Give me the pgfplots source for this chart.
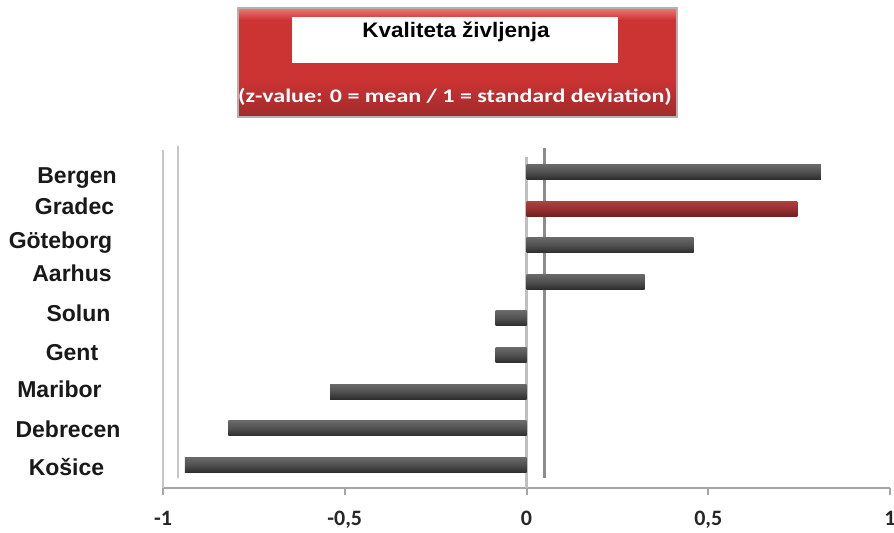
\documentclass[border=0pt]{standalone}
\usepackage{pgfplots}
\pgfplotsset{compat=1.18}
\usepackage{fontspec}
\setmainfont{Liberation Sans}
\newfontfamily\calibri{Carlito}
\definecolor{boxred}{RGB}{204,51,51}
\definecolor{boxlight}{RGB}{240,120,120}
\definecolor{boxdark}{RGB}{160,42,42}
\definecolor{bargray}{RGB}{80,80,80}
\definecolor{bardark}{RGB}{45,45,45}
\definecolor{barlight}{RGB}{105,105,105}
\definecolor{redbar}{RGB}{152,48,48}
\definecolor{redbardark}{RGB}{115,32,32}
\definecolor{redbarlight}{RGB}{175,65,65}
\pgfplotsset{
  graybar/.style={draw=none, top color=barlight, bottom color=bardark, middle color=bargray},
  redbarstyle/.style={draw=none, top color=redbarlight, bottom color=redbardark, middle color=redbar},
}
\begin{document}
\begin{tikzpicture}
\path[use as bounding box] (0,0) rectangle (447pt,-266.5pt);
% title box
\fill[boxred] (119pt,-4pt) rectangle (338.5pt,-58.5pt);
\shade[top color=boxlight, bottom color=boxred] (119pt,-4pt) rectangle (338.5pt,-10pt);
\shade[top color=boxred, bottom color=boxdark] (119pt,-40pt) rectangle (338.5pt,-58.5pt);
\draw[gray!60, line width=0.6pt] (119pt,-4pt) rectangle (338.5pt,-58.5pt);
\fill[white] (146pt,-8.5pt) rectangle (309pt,-31.5pt);
\node[font=\fontsize{10.5pt}{12pt}\selectfont\bfseries, text=black] at (228pt,-16pt) {\scalebox{1.07}[1]{Kvaliteta življenja}};
\node[font=\calibri\fontsize{9.6pt}{11pt}\selectfont\bfseries, text=white] at (227.5pt,-48.5pt) {\scalebox{1.25}[1]{(z-value: 0 = mean / 1 = standard deviation)}};
\begin{axis}[
  at={(81.5pt,-244pt)}, anchor=south west,
  scale only axis, width=363.5pt, height=169pt,
  xmin=-1, xmax=1, ymin=-0.63, ymax=8.6,
  xbar, bar width=7.5pt, bar shift=0pt,
  axis x line=bottom, axis y line=left,
  axis line style={-, draw=gray!70, line width=1pt},
  y axis line style={draw=none},
  xtick={-1,-0.5,0,0.5,1},
  xticklabels={-1,{-0,5},0,{0,5},1},
  xtick align=outside, major tick length=3.5pt,
  xtick style={draw=gray!70, line width=1pt},
  xticklabel style={font=\calibri\fontsize{11pt}{13pt}\selectfont\bfseries, text=black!85, yshift=-4.5pt},
  /pgf/number format/assume math mode=true,
  ytick={-0.06,0.98,2.07,3.08,4.15,5.24,6.07,7.05,7.84},
  yticklabels={Košice,Debrecen,Maribor,Gent,Solun,Aarhus,Göteborg,Gradec,Bergen},
  ytick style={draw=none},
  yticklabel style={font=\fontsize{11.5pt}{13pt}\selectfont\bfseries, anchor=center, text=black!90,
    xshift={-45pt+1pt*{-1.5,-0.75,-5,1.25,4.5,1.25,-4.5,2.5,3.75}[\ticknum]}},
  clip=false,
]
\draw[gray!45, line width=0.8pt] (axis cs:-1,-0.63) -- (axis cs:-1,8.6);
\draw[gray!45, line width=0.8pt] (axis cs:-0.958,-0.36) -- (axis cs:-0.958,8.72);
\draw[gray!50, line width=1.3pt] (axis cs:0,-0.63) -- (axis cs:0,8.42);
\draw[gray!90, line width=1.3pt] (axis cs:0.05,-0.36) -- (axis cs:0.05,8.66);
\addplot[graybar] coordinates {(0.81,8)};
\addplot[redbarstyle] coordinates {(0.745,7)};
\addplot[graybar] coordinates {(0.46,6)};
\addplot[graybar] coordinates {(0.325,5)};
\addplot[graybar] coordinates {(-0.085,4)};
\addplot[graybar] coordinates {(-0.085,3)};
\addplot[graybar] coordinates {(-0.54,2)};
\addplot[graybar] coordinates {(-0.82,1)};
\addplot[graybar] coordinates {(-0.94,0)};
\end{axis}
\end{tikzpicture}
\end{document}
